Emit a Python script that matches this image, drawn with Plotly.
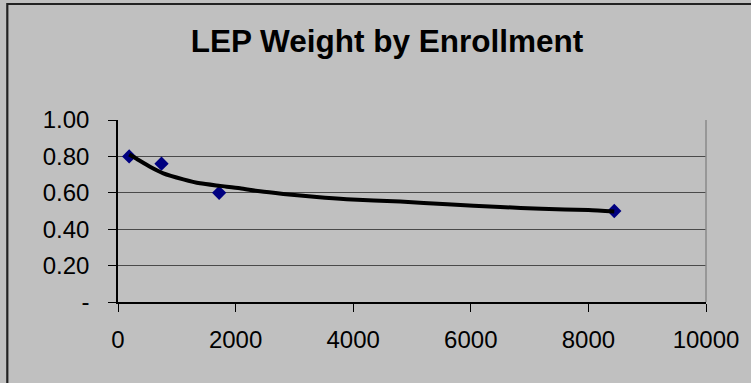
import plotly.graph_objects as go

# Observed LEP weights by district enrollment
enrollment = [190, 740, 1720, 8440]
lep_weight = [0.80, 0.76, 0.60, 0.50]

# Trend curve through the observations
trend_x = [190, 300, 544, 771, 1111, 1395, 1735, 2075, 2415, 2812, 3379,
           3889, 4800, 5600, 6500, 7200, 8000, 8440]
trend_y = [0.81, 0.79, 0.743, 0.707, 0.674, 0.652, 0.638, 0.625, 0.608,
           0.594, 0.577, 0.565, 0.552, 0.537, 0.522, 0.512, 0.505, 0.497]

x_ticks = [0, 2000, 4000, 6000, 8000, 10000]
y_ticks = [0, 0.2, 0.4, 0.6, 0.8, 1.0]
y_tick_text = ["-", "0.20", "0.40", "0.60", "0.80", "1.00"]

W, H = 751, 383
L, R, T, B = 118, 45, 120, 81
pw, ph = W - L - R, H - T - B

fig = go.Figure()
fig.add_trace(go.Scatter(
    x=enrollment, y=lep_weight, mode="markers",
    marker=dict(symbol="diamond", size=11, color="#000080",
                line=dict(width=0)),
    cliponaxis=False, showlegend=False))
fig.add_trace(go.Scatter(
    x=trend_x, y=trend_y, mode="lines",
    line=dict(color="#000000", width=4, shape="spline", smoothing=0.6),
    cliponaxis=False, showlegend=False))

tick_font = dict(family="Liberation Sans, Arial, sans-serif", size=24,
                 color="#000000")

fig.update_layout(
    width=W, height=H,
    margin=dict(l=L, r=R, t=T, b=B, pad=0),
    paper_bgcolor="#C0C0C0", plot_bgcolor="#C0C0C0",
    title=dict(text="<b>LEP Weight by Enrollment</b>",
               x=387 / W, xanchor="center", xref="container",
               y=1 - 40.5 / H, yanchor="middle", yref="container",
               font=dict(family="Liberation Sans, Arial, sans-serif",
                         size=31.5, color="#000000")),
    xaxis=dict(range=[0, 10000], tickvals=x_ticks,
               ticktext=[str(v) for v in x_ticks],
               showgrid=False, zeroline=False,
               showline=True, linecolor="#000000", linewidth=1.5,
               ticks="outside", ticklen=8, tickwidth=1.2,
               tickcolor="#000000", tickfont=tick_font,
               ticklabelstandoff=7),
    yaxis=dict(range=[0, 1], tickvals=y_ticks, ticktext=y_tick_text,
               showgrid=True, gridcolor="#4a4a4a", gridwidth=1.2,
               zeroline=False,
               showline=True, linecolor="#000000", linewidth=1.5,
               ticks="outside", ticklen=8, tickwidth=1.2,
               tickcolor="#000000", tickfont=tick_font,
               ticklabelstandoff=14),
)

# right edge of the plot area
fig.add_shape(type="line", xref="paper", yref="paper",
              x0=1, x1=1, y0=0, y1=1,
              line=dict(color="#8a8a8a", width=1.5))

# chart frame (top and left edges)
def px_x(p):
    return (p - L) / pw

def px_y(p):
    return (H - B - p) / ph

fig.add_shape(type="line", xref="paper", yref="paper",
              x0=px_x(7), x1=px_x(W + 10), y0=px_y(4), y1=px_y(4),
              line=dict(color="#222222", width=2.2))
fig.add_shape(type="line", xref="paper", yref="paper",
              x0=px_x(7.3), x1=px_x(7.3), y0=px_y(3), y1=px_y(H + 10),
              line=dict(color="#222222", width=2.2))

fig.write_html("out.html")
